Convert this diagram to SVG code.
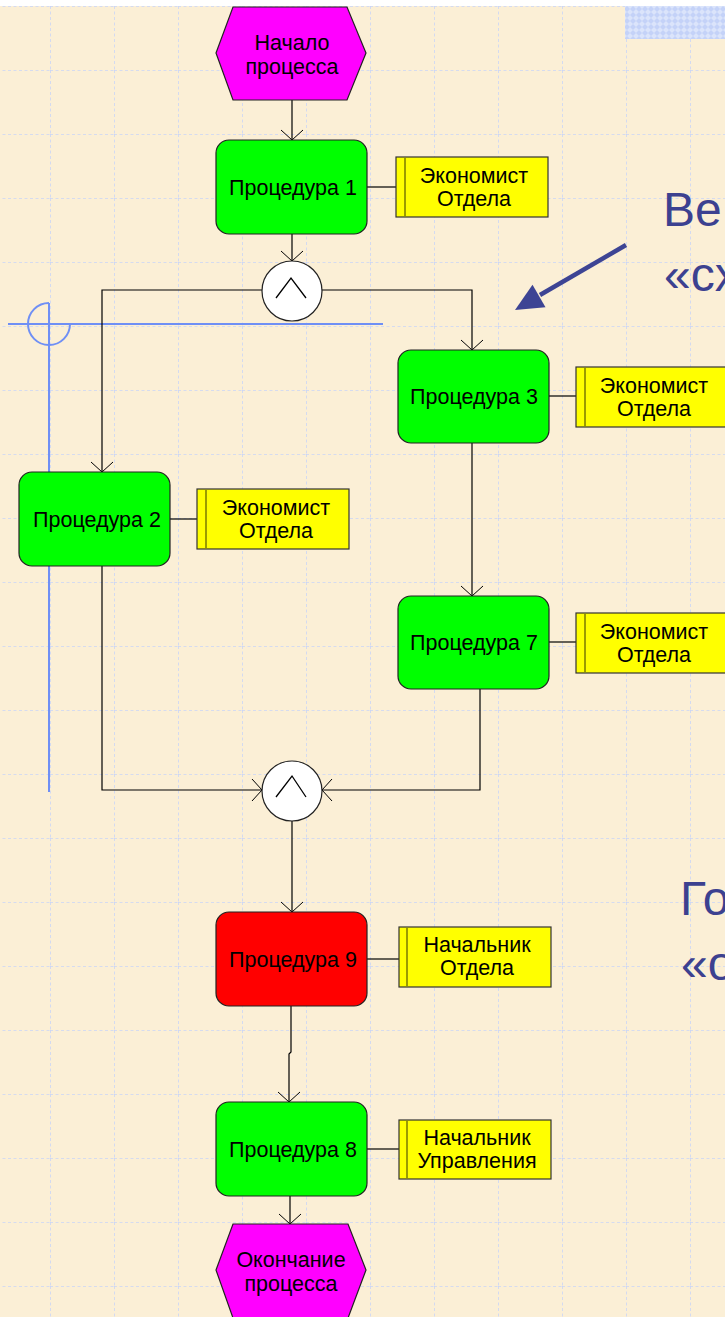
<svg xmlns="http://www.w3.org/2000/svg" width="725" height="1317" viewBox="0 0 725 1317">
  <defs>
    <pattern id="grid" x="50" y="6" width="64" height="64" patternUnits="userSpaceOnUse">
      <path d="M0,0 V64 M0,0 H64" fill="none" stroke="#c9d5f7" stroke-width="1.6" stroke-dasharray="3,2.5"/>
    </pattern>
    <pattern id="check" x="0" y="0" width="6" height="6" patternUnits="userSpaceOnUse">
      <rect width="6" height="6" fill="#dbe4fb"/>
      <path d="M3,0 L6,3 L3,6 L0,3 Z" fill="#c4d2f8"/>
    </pattern>
    <!-- open "V" arrowhead, drawn along +x so orient=auto points it down the path -->
    <marker id="open" viewBox="0 0 12 24" refX="11" refY="12" markerWidth="12" markerHeight="24" markerUnits="userSpaceOnUse" orient="auto">
      <path d="M1,1 L11,12 L1,23" fill="none" stroke="#000" stroke-width="1"/>
    </marker>
    <style>
      .edge { fill: none; stroke: #000; stroke-width: 1.2; }
      .link { fill: none; stroke: #000; stroke-width: 1.2; }
      .proc { stroke: #222; stroke-width: 1.2; }
      .green { fill: #00ff00; }
      .red { fill: #ff0000; }
      .event { fill: #ff00ff; stroke: #222; stroke-width: 1.2; }
      .role { fill: #ffff00; stroke: #333; stroke-width: 1.2; }
      .roleBar { stroke: #7a7a00; stroke-width: 1.5; }
      .gate { fill: #fff; stroke: #222; stroke-width: 1.2; }
      .caret { fill: none; stroke: #000; stroke-width: 1.3; }
      .t { font-family: "Liberation Sans", Arial, sans-serif; font-size: 21.5px; fill: #000; text-anchor: middle; }
      .big { font-family: "Liberation Sans", Arial, sans-serif; font-size: 48px; fill: #3c4190; }
      .guide { fill: none; stroke: #6f8ff5; stroke-width: 2; }
    </style>
  </defs>

  <!-- page background -->
  <rect width="725" height="1317" fill="#fbefd6"/>
  <rect width="725" height="1317" fill="url(#grid)"/>
  <rect width="725" height="6" fill="#ffffff"/>
  <rect x="625" y="6" width="100" height="33" fill="url(#check)"/>

  <!-- alignment guide -->
  <g id="guide">
    <line class="guide" x1="8" y1="324" x2="383" y2="324"/>
    <line class="guide" x1="49" y1="303" x2="49" y2="792"/>
    <path class="guide" d="M49,303 A21,21 0 1 0 70,324"/>
  </g>

  <!-- connectors -->
  <g id="connectors">
    <path class="edge" d="M292,100 V140" marker-end="url(#open)"/>
    <path class="edge" d="M292,234 V261" marker-end="url(#open)"/>
    <path class="edge" d="M262,290 H102 V472" marker-end="url(#open)"/>
    <path class="edge" d="M322,290 H472 V350" marker-end="url(#open)"/>
    <path class="edge" d="M472,443 V596" marker-end="url(#open)"/>
    <path class="edge" d="M102,566 V790 H262" marker-end="url(#open)"/>
    <path class="edge" d="M480,689 V790 H322" marker-end="url(#open)"/>
    <path class="edge" d="M292,821 V912" marker-end="url(#open)"/>
    <path class="edge" d="M291,1006 V1052 L289,1054 V1102" marker-end="url(#open)"/>
    <path class="edge" d="M290,1196 V1224" marker-end="url(#open)"/>
    <!-- role links -->
    <line class="link" x1="367" y1="187" x2="396" y2="187"/>
    <line class="link" x1="549" y1="396" x2="576" y2="396"/>
    <line class="link" x1="170" y1="519" x2="197" y2="519"/>
    <line class="link" x1="549" y1="642" x2="576" y2="642"/>
    <line class="link" x1="367" y1="959" x2="399" y2="959"/>
    <line class="link" x1="367" y1="1149" x2="399" y2="1149"/>
  </g>

  <!-- events -->
  <g id="start">
    <polygon class="event" points="233,7 347,7 366,53 347,100 233,100 216,53"/>
    <text class="t" x="292" y="50">Начало</text>
    <text class="t" x="292" y="74">процесса</text>
  </g>
  <g id="end">
    <polygon class="event" points="233,1224 348,1224 366,1270 348,1318 233,1318 216,1270"/>
    <text class="t" x="291" y="1267">Окончание</text>
    <text class="t" x="291" y="1291">процесса</text>
  </g>

  <!-- functions -->
  <g id="proc1">
    <rect class="proc green" x="216" y="140" width="151" height="94" rx="13"/>
    <text class="t" x="293" y="195">Процедура 1</text>
  </g>
  <g id="proc3">
    <rect class="proc green" x="398" y="350" width="151" height="93" rx="13"/>
    <text class="t" x="474" y="404">Процедура 3</text>
  </g>
  <g id="proc2">
    <rect class="proc green" x="19" y="472" width="151" height="94" rx="13"/>
    <text class="t" x="97" y="527">Процедура 2</text>
  </g>
  <g id="proc7">
    <rect class="proc green" x="398" y="596" width="151" height="93" rx="13"/>
    <text class="t" x="474" y="650">Процедура 7</text>
  </g>
  <g id="proc9">
    <rect class="proc red" x="216" y="912" width="151" height="94" rx="13"/>
    <text class="t" x="293" y="967">Процедура 9</text>
  </g>
  <g id="proc8">
    <rect class="proc green" x="216" y="1102" width="151" height="94" rx="13"/>
    <text class="t" x="293" y="1157">Процедура 8</text>
  </g>

  <!-- AND gates -->
  <g id="gateSplit">
    <circle class="gate" cx="292" cy="291" r="30"/>
    <polyline class="caret" points="276,298 291,278 306,298"/>
  </g>
  <g id="gateJoin">
    <circle class="gate" cx="292" cy="791" r="30"/>
    <polyline class="caret" points="276,797 292,776 306,797"/>
  </g>

  <!-- roles -->
  <g id="role1">
    <rect class="role" x="396" y="157" width="152" height="60"/>
    <line class="roleBar" x1="405" y1="158" x2="405" y2="216"/>
    <text class="t" x="474" y="183">Экономист</text>
    <text class="t" x="474" y="206">Отдела</text>
  </g>
  <g id="role3">
    <rect class="role" x="576" y="367" width="152" height="60"/>
    <line class="roleBar" x1="585" y1="368" x2="585" y2="426"/>
    <text class="t" x="654" y="393">Экономист</text>
    <text class="t" x="654" y="416">Отдела</text>
  </g>
  <g id="role2">
    <rect class="role" x="197" y="489" width="152" height="60"/>
    <line class="roleBar" x1="206" y1="490" x2="206" y2="548"/>
    <text class="t" x="276" y="515">Экономист</text>
    <text class="t" x="276" y="538">Отдела</text>
  </g>
  <g id="role7">
    <rect class="role" x="576" y="613" width="152" height="60"/>
    <line class="roleBar" x1="585" y1="614" x2="585" y2="672"/>
    <text class="t" x="654" y="639">Экономист</text>
    <text class="t" x="654" y="662">Отдела</text>
  </g>
  <g id="role9">
    <rect class="role" x="399" y="927" width="152" height="60"/>
    <line class="roleBar" x1="407" y1="928" x2="407" y2="986"/>
    <text class="t" x="477" y="952">Начальник</text>
    <text class="t" x="477" y="975">Отдела</text>
  </g>
  <g id="role8">
    <rect class="role" x="399" y="1120" width="152" height="59"/>
    <line class="roleBar" x1="407" y1="1121" x2="407" y2="1178"/>
    <text class="t" x="477" y="1145">Начальник</text>
    <text class="t" x="477" y="1168">Управления</text>
  </g>

  <!-- side captions -->
  <g id="captionTop">
    <text class="big" x="663" y="226">Ве</text>
    <text class="big" x="664" y="291">«сх</text>
    <line x1="626" y1="245" x2="540" y2="295" stroke="#3d4494" stroke-width="4.5"/>
    <polygon points="515,310 532.5,284.7 545.5,307.3" fill="#3d4494"/>
  </g>
  <g id="captionBottom">
    <text class="big" x="680" y="915">Го</text>
    <text class="big" x="681" y="980">«о</text>
  </g>
</svg>
